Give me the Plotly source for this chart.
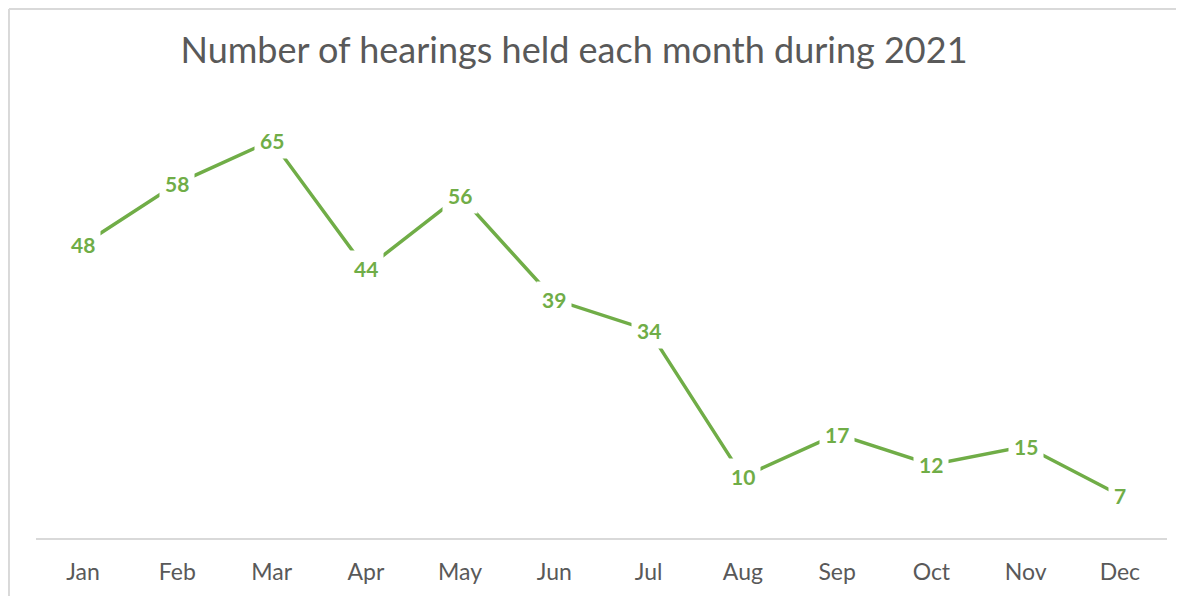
import plotly.graph_objects as go

months = ['Jan', 'Feb', 'Mar', 'Apr', 'May', 'Jun', 'Jul', 'Aug', 'Sep', 'Oct', 'Nov', 'Dec']
hearings = [48, 58, 65, 44, 56, 39, 34, 10, 17, 12, 15, 7]

green = '#70ad47'
grey_text = '#595959'
border = '#d9d9d9'

fig = go.Figure()

fig.add_trace(
    go.Scatter(
        x=months,
        y=hearings,
        mode='lines',
        line=dict(color=green, width=3.5),
        hoverinfo='x+y',
        showlegend=False,
    )
)

# data labels sit on the points with a white box, like Excel's centred labels
for m, v in zip(months, hearings):
    fig.add_annotation(
        x=m, y=v, text=f'<b>{v}</b>', showarrow=False,
        font=dict(family='Lato', size=21, color=green),
        bgcolor='white', borderpad=5,
    )

# the page body has an 8px margin, so positions are shifted back by 8px
W, H = 1176, 588
fig.update_layout(
    width=W,
    height=H,
    margin=dict(l=28, r=17, t=102, b=58, autoexpand=False),
    paper_bgcolor='white',
    plot_bgcolor='white',
    title=dict(
        text='Number of hearings held each month during 2021',
        font=dict(family='Lato', size=36, color=grey_text),
        x=566 / W, xref='container', xanchor='center',
        y=1 - 42 / H, yref='container', yanchor='middle',
    ),
    # chart-area border: only the left and top edges fall inside the picture
    shapes=[
        dict(type='line', xref='paper', yref='paper',
             x0=-0.0239, x1=-0.0239, y0=-0.5, y1=1.236,
             line=dict(color=border, width=2), layer='below'),
        dict(type='line', xref='paper', yref='paper',
             x0=-0.0239, x1=1.2, y0=1.236, y1=1.236,
             line=dict(color=border, width=2), layer='below'),
    ],
)

fig.update_xaxes(
    showline=True, linecolor=border, linewidth=2,
    showgrid=False, zeroline=False, automargin=False,
    tickfont=dict(family='Lato', size=23, color=grey_text),
    ticklabelstandoff=12,
    range=[-0.5, 11.5],
)
fig.update_yaxes(
    range=[0, 70], visible=False, showgrid=False, zeroline=False,
    automargin=False,
)

fig.write_html(
    "out.html",
    post_script="document.documentElement.style.overflow='hidden';",
)
